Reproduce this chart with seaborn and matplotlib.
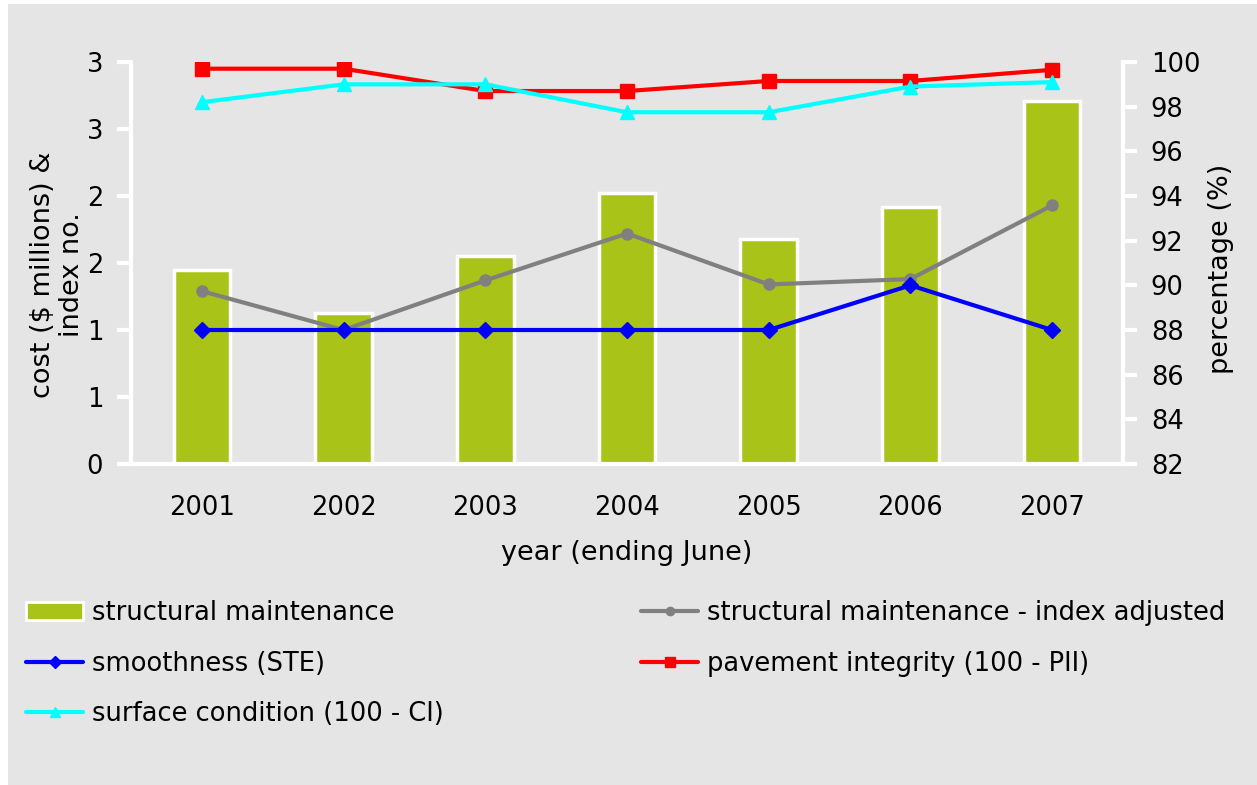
import numpy as np
import pandas as pd
import matplotlib
matplotlib.use('Agg')
import matplotlib.pyplot as plt
import matplotlib.ticker as ticker
from matplotlib.patches import Rectangle
from matplotlib.lines import Line2D
from matplotlib.patches import Patch
import seaborn as sns

"""Data (read off the reference)"""
years = ['2001', '2002', '2003', '2004', '2005', '2006', '2007']
structural_maintenance = [1.45, 1.13, 1.55, 2.02, 1.68, 1.92, 2.71]
index_adjusted = [1.29, 1.00, 1.37, 1.72, 1.34, 1.38, 1.93]
smoothness_ste = [88.0, 88.0, 88.0, 88.0, 88.0, 90.0, 88.0]
pavement_integrity = [99.7, 99.7, 98.7, 98.7, 99.15, 99.15, 99.65]
surface_condition = [98.2, 99.0, 99.0, 97.75, 97.75, 98.9, 99.1]

left_ticks = [0, 0.5, 1.0, 1.5, 2.0, 2.5, 3.0]
right_ticks = [82, 84, 86, 88, 90, 92, 94, 96, 98, 100]

bar_color = '#aac318'
bg_color = '#e5e5e5'

df = pd.DataFrame({'year': years, 'cost': structural_maintenance})

sns.set_style('white')
plt.rcParams['font.family'] = ['DejaVu Sans']
plt.rcParams['text.color'] = 'black'
plt.rcParams['axes.labelcolor'] = 'black'
plt.rcParams['xtick.labelcolor'] = 'black'
plt.rcParams['ytick.labelcolor'] = 'black'

fig = plt.figure(figsize=(12.57, 7.85), dpi=100)
fig.patch.set_facecolor('white')
# grey panel behind everything
fig.patches.append(Rectangle((8 / 1257, 0), 1, 1 - 4 / 785, transform=fig.transFigure,
                             facecolor=bg_color, edgecolor='none', zorder=-10))

ax = fig.add_axes([131 / 1257, 1 - 464 / 785, (1123 - 131) / 1257, (464 - 62) / 785])
ax.set_facecolor('none')

sns.barplot(data=df, x='year', y='cost', order=years, color=bar_color, width=0.4,
            edgecolor='white', linewidth=2.5, saturation=1, ax=ax, zorder=2)
xpos = np.arange(len(years))
ax.plot(xpos, index_adjusted, color='#808080', lw=3, marker='o', ms=8, zorder=5)

ax.set_xlim(-0.5, len(years) - 0.5)
ax.set_ylim(0, 3)
ax.set_yticks(left_ticks)
ax.set_yticklabels([f'{int(np.floor(v + 0.5))}' for v in left_ticks])
ax.xaxis.set_major_locator(ticker.FixedLocator(np.arange(-0.5, len(years), 1)))
ax.xaxis.set_major_formatter(ticker.NullFormatter())
ax.xaxis.set_minor_locator(ticker.FixedLocator(xpos))
ax.xaxis.set_minor_formatter(ticker.FixedFormatter(years))
ax.tick_params(axis='x', which='major', length=9, width=3, color='white', direction='out')
ax.tick_params(axis='x', which='minor', length=0, labelsize=18.5, pad=22)
ax.tick_params(axis='y', length=10, width=3, color='white', labelsize=18.5, pad=10)
for s in ['top', 'right']:
    ax.spines[s].set_visible(False)
for s in ['left', 'bottom']:
    ax.spines[s].set_color('white')
    ax.spines[s].set_linewidth(3)
ax.set_xlabel('year (ending June)', fontsize=19.5, labelpad=14)
ax.set_ylabel('cost ($ millions) &\nindex no.', fontsize=19.5, linespacing=1.15)
ax.yaxis.set_label_coords(-0.046, 0.47)

ax2 = ax.twinx()
ax2.plot(xpos, smoothness_ste, color='#0000ff', lw=3, marker='D', ms=8, zorder=5)
ax2.plot(xpos, pavement_integrity, color='#ff0000', lw=3, marker='s', ms=9.5, zorder=5)
ax2.plot(xpos, surface_condition, color='#00ffff', lw=3, marker='^', ms=10, zorder=5)
ax2.set_ylim(82, 100)
ax2.set_yticks(right_ticks)
ax2.tick_params(axis='y', length=10, width=3, color='white', labelsize=18.5, pad=10)
for s in ['top', 'left', 'bottom']:
    ax2.spines[s].set_visible(False)
ax2.spines['right'].set_color('white')
ax2.spines['right'].set_linewidth(3)
ax2.set_ylabel('percentage (%)', fontsize=19.5)
ax2.yaxis.set_label_coords(1.086, 0.485)

# legend fills column by column: left column first, then right column
handles = [
    Patch(facecolor=bar_color, edgecolor='white', linewidth=2, label='structural maintenance'),
    Line2D([0], [0], color='#0000ff', lw=3, marker='D', ms=6, label='smoothness (STE)'),
    Line2D([0], [0], color='#00ffff', lw=3, marker='^', ms=7, label='surface condition (100 - CI)'),
    Line2D([0], [0], color='#808080', lw=3, marker='o', ms=6, label='structural maintenance - index adjusted'),
    Line2D([0], [0], color='#ff0000', lw=3, marker='s', ms=7, label='pavement integrity (100 - PII)'),
]
fig.legend(handles=handles, ncol=2, loc='upper left', bbox_to_anchor=(16 / 1257, 1 - 590 / 785),
           frameon=False, fontsize=18.5, handlelength=2.2, handletextpad=0.35,
           columnspacing=7.7, labelspacing=0.95, borderaxespad=0)

fig.savefig('out.png', dpi=100, facecolor=fig.get_facecolor())
